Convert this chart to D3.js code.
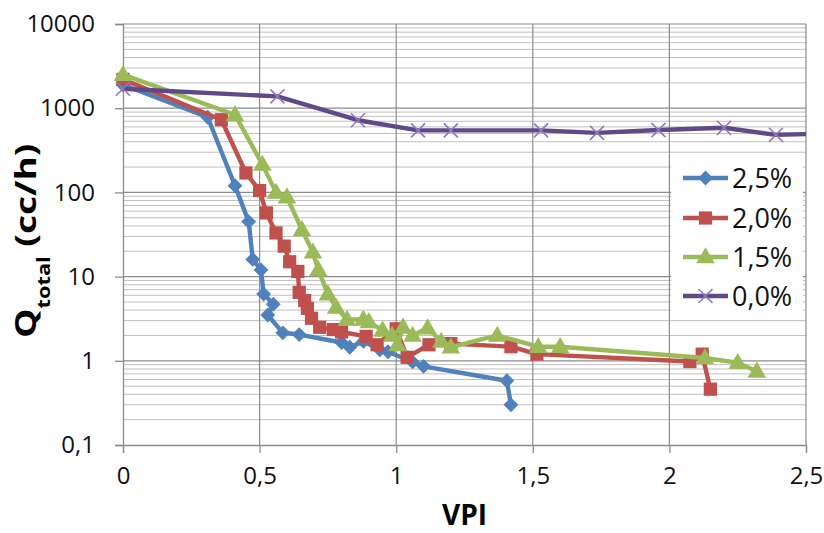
<!DOCTYPE html>
<html><head><meta charset="utf-8">
<script src="https://cdn.jsdelivr.net/npm/d3@7"></script>
<style>body{margin:0;background:#fff}</style></head>
<body><svg id="c" width="824" height="533"></svg>
<script>
// ---- data ----
const seriesNames = ["2,5%", "2,0%", "1,5%", "0,0%"];
const vpi25 = [0, 0.31, 0.41, 0.46, 0.475, 0.505, 0.515, 0.55, 0.53, 0.585, 0.645, 0.8, 0.83, 0.88, 0.94, 0.97, 1.06, 1.1, 1.405, 1.42];
const q25   = [1900, 780, 120, 45, 16, 12, 6.2, 4.7, 3.5, 2.15, 2.05, 1.65, 1.45, 1.7, 1.35, 1.28, 0.97, 0.86, 0.58, 0.3];
const vpi20 = [0, 0.36, 0.45, 0.5, 0.525, 0.56, 0.59, 0.61, 0.64, 0.645, 0.665, 0.675, 0.69, 0.72, 0.77, 0.8, 0.89, 0.93, 1.0, 1.04, 1.12, 1.2, 1.42, 1.515, 2.075, 2.12, 2.15];
const q20   = [2200, 730, 170, 105, 57, 33, 23, 15, 11.5, 6.5, 5.2, 4.2, 3.2, 2.5, 2.35, 2.2, 1.95, 1.55, 2.4, 1.1, 1.55, 1.6, 1.47, 1.2, 0.98, 1.2, 0.46];
const vpi15 = [0, 0.41, 0.51, 0.56, 0.6, 0.655, 0.695, 0.715, 0.75, 0.78, 0.82, 0.88, 0.9, 0.95, 0.985, 1.005, 1.025, 1.06, 1.115, 1.165, 1.2, 1.37, 1.52, 1.6, 2.13, 2.25, 2.32];
const q15   = [2500, 835, 215, 100, 88, 36, 19.5, 12, 6.2, 4.3, 3.1, 3.1, 2.9, 2.3, 2.0, 1.55, 2.5, 2.0, 2.45, 1.7, 1.45, 2.0, 1.47, 1.47, 1.08, 0.95, 0.75];
const vpi00 = [0, 0.565, 0.86, 1.08, 1.2, 1.53, 1.735, 1.96, 2.2, 2.39, 2.6];
const q00   = [1700, 1380, 720, 545, 545, 545, 510, 550, 585, 483, 500];
const xTicks = [0, 0.5, 1, 1.5, 2, 2.5];
const xTickLabels = ["0", "0,5", "1", "1,5", "2", "2,5"];
const yTicks = [0.1, 1, 10, 100, 1000, 10000];
const yTickLabels = ["0,1", "1", "10", "100", "1000", "10000"];

// ---- styling ----
const colors = ["#4f81bd", "#c0504d", "#9bbb59", "#5f4a87"];
const markerColors = ["#4f81bd", "#c0504d", "#9bbb59", "#9079bd"];
const font = "'Open Sans', 'Liberation Sans', sans-serif";

const svg = d3.select("#c");
svg.append("rect").attr("width", 824).attr("height", 533).attr("fill", "#fff");

const x = d3.scaleLinear().domain([0, 2.5]).range([123, 806]);
const y = d3.scaleLog().domain([0.1, 10000]).range([445, 24]);

// minor horizontal gridlines
const minor = [];
for (let d = 0.1; d < 10000; d *= 10) for (let k = 2; k <= 9; k++) minor.push(+(d * k).toPrecision(3));
svg.append("g").selectAll("line").data(minor).join("line")
  .attr("x1", x(0)).attr("x2", x(2.5))
  .attr("y1", d => y(d)).attr("y2", d => y(d))
  .attr("stroke", "#c0c0c0").attr("stroke-width", 1);
// major horizontal gridlines
svg.append("g").selectAll("line").data(yTicks.slice(1)).join("line")
  .attr("x1", x(0)).attr("x2", x(2.5))
  .attr("y1", d => y(d)).attr("y2", d => y(d))
  .attr("stroke", "#8c8c8c").attr("stroke-width", 1.2);
// vertical gridlines
svg.append("g").selectAll("line").data(xTicks.slice(1)).join("line")
  .attr("x1", d => x(d)).attr("x2", d => x(d))
  .attr("y1", y(10000)).attr("y2", y(0.1))
  .attr("stroke", "#8c8c8c").attr("stroke-width", 1.2);

// axes
const xAxis = d3.axisBottom(x).tickValues(xTicks).tickFormat((d, i) => xTickLabels[i]).tickSize(8).tickPadding(14);
const gx = svg.append("g").attr("transform", `translate(0,${y(0.1)})`).call(xAxis);
gx.select(".domain").attr("stroke", "#8c8c8c").attr("stroke-width", 1.3);
gx.selectAll(".tick line").attr("stroke", "#8c8c8c").attr("stroke-width", 1.3);
gx.selectAll("text").attr("font-family", font).attr("font-size", 24).attr("fill", "#111");

const yAxis = d3.axisLeft(y).tickValues(yTicks).tickFormat((d, i) => yTickLabels[i]).tickSize(8).tickPadding(20);
const gy = svg.append("g").attr("transform", `translate(${x(0)},0)`).call(yAxis);
gy.select(".domain").attr("stroke", "#8c8c8c").attr("stroke-width", 1.3);
gy.selectAll(".tick line").attr("stroke", "#8c8c8c").attr("stroke-width", 1.3);
gy.selectAll("text").attr("font-family", font).attr("font-size", 24).attr("fill", "#111");

// axis titles
svg.append("text").attr("x", (x(0) + x(2.5)) / 2).attr("y", 525)
  .attr("text-anchor", "middle").attr("font-family", font).attr("font-weight", "bold")
  .attr("font-size", 28).attr("fill", "#000").text("VPI");
const yt = svg.append("text").attr("transform", "translate(36,338) rotate(-90) scale(1.28,1)")
  .attr("font-family", font).attr("font-weight", "bold").attr("fill", "#000");
yt.append("tspan").attr("font-size", 29).text("Q");
yt.append("tspan").attr("font-size", 17).attr("dy", 14).text("total");
yt.append("tspan").attr("font-size", 29).attr("dy", -14).text(" (cc/h)");

// series
const series = [
  d3.zip(vpi25, q25), d3.zip(vpi20, q20), d3.zip(vpi15, q15), d3.zip(vpi00, q00)
];
svg.append("clipPath").attr("id", "clip").append("rect")
  .attr("x", 0).attr("y", 0).attr("width", x(2.5)).attr("height", 533);

const line = d3.line().x(d => x(d[0])).y(d => y(d[1]));
const symbols = [d3.symbolSquare, d3.symbolSquare, d3.symbolTriangle, d3.symbolTimes || d3.symbolX];
const sizes = [110, 175, 150, 130];
const rot = [45, 0, 0, 0];

function drawMarker(g, i, px, py) {
  const p = d3.symbol().type(symbols[i]).size(sizes[i])();
  const m = g.append("path").attr("d", p)
    .attr("transform", `translate(${px},${py}) rotate(${rot[i]})` + (i === 2 ? " translate(0,1)" : ""));
  if (i === 3) m.attr("fill", "none").attr("stroke", markerColors[i]).attr("stroke-width", 1.6);
  else m.attr("fill", markerColors[i]);
}

const plotG = svg.append("g").attr("clip-path", "url(#clip)");
series.forEach((data, i) => {
  const g = plotG.append("g");
  g.append("path").attr("d", line(data)).attr("fill", "none")
    .attr("stroke", colors[i]).attr("stroke-width", 4.4).attr("stroke-linejoin", "round");
  data.forEach(d => drawMarker(g, i, x(d[0]), y(d[1])));
});

// legend
const lg = svg.append("g");
lg.append("rect").attr("x", 671).attr("y", 161).attr("width", 132).attr("height", 151).attr("fill", "#fff");
const legendY = [178, 218, 257, 296];
seriesNames.forEach((name, i) => {
  const ly = legendY[i];
  lg.append("line").attr("x1", 683).attr("x2", 728).attr("y1", ly).attr("y2", ly)
    .attr("stroke", colors[i]).attr("stroke-width", 4.4);
  drawMarker(lg, i, 705.5, ly);
  lg.append("text").attr("x", 732).attr("y", ly + 10).attr("font-family", font)
    .attr("font-size", 27).attr("fill", "#111").text(name);
});
</script>
</body></html>
